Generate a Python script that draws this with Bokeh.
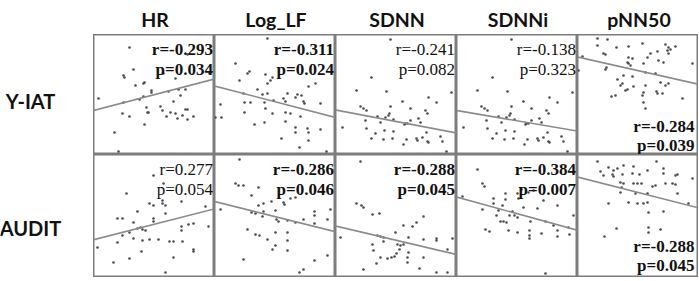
from bokeh.plotting import figure
from bokeh.layouts import gridplot
from bokeh.models import Range1d, Slope
from bokeh.core.properties import value
from bokeh.embed import file_html
from bokeh.resources import INLINE

# ---------------- data ----------------
columns = ["HR", "Log_LF", "SDNN", "SDNNi", "pNN50"]
rows = ["Y-IAT", "AUDIT"]

r_vals = [["-0.293", "-0.311", "-0.241", "-0.138", "-0.284"],
          ["0.277", "-0.286", "-0.288", "-0.384", "-0.288"]]
p_vals = [["0.034", "0.024", "0.082", "0.323", "0.039"],
          ["0.054", "0.046", "0.045", "0.007", "0.045"]]

hr_yiat_x = [36, 94, 30, 31, 40, 42, 50, 51, 58, 58, 70, 82, 5, 30, 46, 50, 75, 85, 92, 87,
             80, 53, 54, 55, 67, 69, 77, 82, 92, 94, 89, 94, 84, 100, 29, 36, 51, 21, 25, 73, 116]
hr_yiat_y = [107, 100, 79, 77, 85, 69, 71, 72, 64, 62, 81, 76, 56, 52, 55, 58, 63, 65, 65, 59,
             53, 47, 42, 42, 48, 44, 42, 41, 45, 45, 39, 35, 36, 38, 41, 38, 30, 22, 3, 38, 81]

loglf_yiat_x = [53, 21, 33, 35, 25, 51, 58, 56, 53, 43, 48, 53, 73, 83, 87, 94, 101, 81, 69, 71,
                89, 90, 106, 29, 30, 36, 50, 59, 6, 30, 51, 58, 71, 76, 86, 7, 1, 40, 50, 71,
                81, 81, 93, 94, 94, 106, 67, 85, 112]
loglf_yiat_y = [116, 91, 81, 83, 74, 80, 77, 74, 71, 65, 60, 61, 61, 60, 59, 68, 71, 57, 56, 53,
                53, 51, 51, 61, 52, 52, 52, 54, 50, 42, 46, 41, 42, 41, 38, 37, 37, 30, 32, 33,
                27, 22, 26, 22, 14, 25, 16, 7, 3]

sdnn_yiat_x = [55, 36, 21, 51, 67, 93, 101, 116, 25, 28, 31, 55, 54, 53, 42, 75, 90, 92, 7, 30,
               45, 50, 58, 69, 70, 72, 75, 83, 85, 31, 40, 49, 58, 36, 48, 57, 71, 68, 81, 82,
               87, 92, 93, 105, 107, 111, 91]
sdnn_yiat_y = [115, 77, 64, 63, 53, 57, 52, 62, 48, 46, 44, 48, 41, 39, 38, 46, 44, 41, 27, 34,
               32, 37, 35, 30, 31, 31, 34, 36, 32, 26, 21, 24, 23, 16, 15, 16, 15, 10, 16, 14,
               17, 13, 12, 18, 13, 3, 22]

sdnni_yiat_x = list(sdnn_yiat_x)
sdnni_yiat_y = list(sdnn_yiat_y)

pnn50_yiat_x = [20, 30, 20, 39, 51, 65, 88, 91, 98, 5, 26, 28, 51, 73, 80, 90, 91, 93, 81, 86,
                55, 50, 51, 53, 70, 66, 1, 29, 28, 115, 46, 55, 68, 78, 40, 45, 43, 48, 50, 56,
                83, 88, 91, 68, 79, 80, 85, 38, 34, 65, 66, 66, 105, 68]
pnn50_yiat_y = [116, 115, 109, 107, 108, 111, 110, 107, 108, 98, 101, 100, 97, 101, 103, 104, 101, 105, 94, 92,
                96, 92, 91, 89, 97, 91, 84, 87, 85, 91, 79, 78, 82, 81, 75, 71, 69, 64, 65, 68,
                72, 69, 71, 69, 63, 61, 61, 59, 58, 59, 62, 52, 56, 46]

hr_audit_x = [60, 33, 56, 60, 69, 69, 72, 88, 112, 44, 72, 24, 29, 60, 60, 40, 44, 47, 49, 52,
              88, 88, 95, 100, 115, 29, 36, 40, 49, 56, 65, 76, 80, 89, 4, 24, 48, 100, 100, 80,
              36, 20, 72, 70]
hr_audit_y = [102, 84, 74, 72, 77, 74, 72, 76, 71, 66, 64, 59, 59, 59, 56, 55, 49, 50, 48, 47,
              51, 47, 53, 54, 51, 42, 45, 39, 37, 38, 38, 36, 36, 36, 30, 35, 26, 28, 26, 20,
              19, 15, 5, 94]

loglf_audit_x = [25, 21, 24, 29, 44, 37, 6, 57, 69, 70, 76, 81, 44, 49, 37, 41, 49, 61, 48, 62,
                 64, 73, 81, 89, 100, 100, 100, 113, 116, 33, 41, 45, 53, 61, 73, 73, 61, 58, 73, 29,
                 100, 113, 85, 89]
loglf_audit_y = [118, 94, 92, 92, 90, 82, 68, 76, 75, 73, 79, 80, 72, 74, 65, 64, 66, 67, 61, 58,
                 56, 57, 55, 58, 66, 62, 54, 58, 68, 48, 43, 42, 38, 45, 45, 37, 32, 28, 27, 18,
                 17, 22, 5, 8]

sdnn_audit_x = [25, 21, 26, 28, 37, 44, 88, 68, 77, 81, 60, 73, 42, 45, 48, 5, 48, 88, 101, 101,
                117, 37, 62, 65, 68, 64, 38, 61, 73, 112, 45, 52, 56, 59, 72, 88, 41, 72, 84, 28,
                101, 112]
sdnn_audit_y = [116, 74, 72, 70, 63, 64, 61, 52, 51, 55, 45, 40, 42, 41, 40, 40, 36, 38, 39, 37,
                39, 33, 33, 32, 33, 28, 27, 24, 25, 28, 20, 19, 20, 21, 20, 20, 14, 15, 9, 8,
                5, 5]

sdnni_audit_x = [21, 26, 28, 6, 37, 37, 49, 49, 46, 61, 65, 72, 77, 56, 62, 67, 81, 87, 101, 26,
                 42, 40, 44, 47, 50, 53, 58, 61, 74, 89, 97, 112, 117, 29, 33, 52, 61, 73, 73, 73,
                 85, 101, 101, 113, 89]
sdnni_audit_y = [108, 94, 91, 81, 79, 74, 84, 78, 72, 84, 88, 85, 87, 66, 79, 70, 69, 77, 72, 68,
                 67, 62, 56, 56, 55, 62, 62, 60, 56, 56, 52, 50, 62, 48, 46, 47, 45, 47, 42, 39,
                 44, 47, 41, 43, 4]

pnn50_audit_x = [20, 31, 36, 40, 46, 56, 79, 23, 26, 35, 36, 45, 55, 62, 70, 86, 98, 100, 86, 115,
                 43, 46, 44, 56, 60, 64, 75, 78, 88, 95, 98, 43, 58, 70, 100, 31, 51, 60, 66, 70,
                 71, 86, 111, 39, 71, 71, 83, 27]
pnn50_audit_y = [116, 110, 107, 109, 112, 111, 116, 106, 102, 103, 101, 103, 104, 103, 107, 109, 102, 103, 104, 99,
                 95, 94, 90, 94, 94, 94, 91, 92, 94, 94, 93, 85, 84, 84, 84, 74, 75, 74, 74, 75,
                 65, 66, 74, 49, 50, 45, 48, 41]

# fitted lines: intercept at x=0 and gradient
fit_intercept = [[44, 68.5, 44.5, 44, 97.5], [37.7, 76, 51.5, 80.5, 100.5]]
fit_gradient = [[0.26, -0.26, -0.19, -0.17, -0.225], [0.256, -0.25, -0.235, -0.275, -0.255]]

scatter_x = [[hr_yiat_x, loglf_yiat_x, sdnn_yiat_x, sdnni_yiat_x, pnn50_yiat_x],
             [hr_audit_x, loglf_audit_x, sdnn_audit_x, sdnni_audit_x, pnn50_audit_x]]
scatter_y = [[hr_yiat_y, loglf_yiat_y, sdnn_yiat_y, sdnni_yiat_y, pnn50_yiat_y],
             [hr_audit_y, loglf_audit_y, sdnn_audit_y, sdnni_audit_y, pnn50_audit_y]]

# ---------------- layout ----------------
LABEL_W = 93
PANEL_W = 121
HEADER_H = 34
ROW_H = [120, 123]
BORDER = "#7d7d7d"


def blank_fig(w, h, xr, yr):
    f = figure(width=w, height=h, x_range=Range1d(0, xr), y_range=Range1d(0, yr),
               output_backend="svg", toolbar_location=None,
               x_axis_location=None, y_axis_location=None,
               min_border=0, min_border_left=0, min_border_right=0,
               min_border_top=0, min_border_bottom=0)
    f.xgrid.visible = False
    f.ygrid.visible = False
    f.outline_line_color = None
    f.background_fill_color = "white"
    f.border_fill_color = "white"
    return f


corner = blank_fig(LABEL_W, HEADER_H, LABEL_W, HEADER_H)
header_figs = []
for name in columns:
    h = blank_fig(PANEL_W, HEADER_H, PANEL_W, HEADER_H)
    h.text(x=[PANEL_W / 2 + 1], y=[15.5], text=[name], text_font=value("Lato"),
           text_font_style="bold", text_font_size="19.5px", text_align="center",
           text_baseline="alphabetic", text_color="#111111")
    header_figs.append(h)

grid_rows = [[corner] + header_figs]
label_base = [54, 50]
for ri, rname in enumerate(rows):
    H = ROW_H[ri]
    lab = blank_fig(LABEL_W, H, LABEL_W, H)
    lab.text(x=[30], y=[label_base[ri]], text=[rname], text_font=value("Lato"),
             text_font_style="bold", text_font_size="20px", text_align="center",
             text_baseline="alphabetic", text_color="#111111")
    row = [lab]
    for ci in range(len(columns)):
        p = blank_fig(PANEL_W, H, PANEL_W, H)
        p.outline_line_color = BORDER
        p.outline_line_width = 2
        p.scatter(scatter_x[ri][ci], scatter_y[ri][ci], size=2.6,
                  fill_color="#4a4a4a", line_color=None)
        p.add_layout(Slope(gradient=fit_gradient[ri][ci], y_intercept=fit_intercept[ri][ci],
                           line_color="#8a8a8a", line_width=1.6))
        sig = float(p_vals[ri][ci]) < 0.05
        style = "bold" if sig else "normal"
        if ci == 4:
            xs, ys = PANEL_W - 4, [H - 92, H - 111]
        else:
            xs, ys = PANEL_W - 1.5, [H - 14.5, H - 34.5]
        p.text(x=[xs, xs], y=ys, text=["r=" + r_vals[ri][ci], "p=" + p_vals[ri][ci]],
               text_font=value("Liberation Serif"), text_font_style=style,
               text_font_size="17px", text_align="right", text_baseline="alphabetic",
               text_color="#111111")
        row.append(p)
    grid_rows.append(row)

grid = gridplot(grid_rows, toolbar_location=None)

open("out.html", "w").write(file_html(grid, INLINE))
